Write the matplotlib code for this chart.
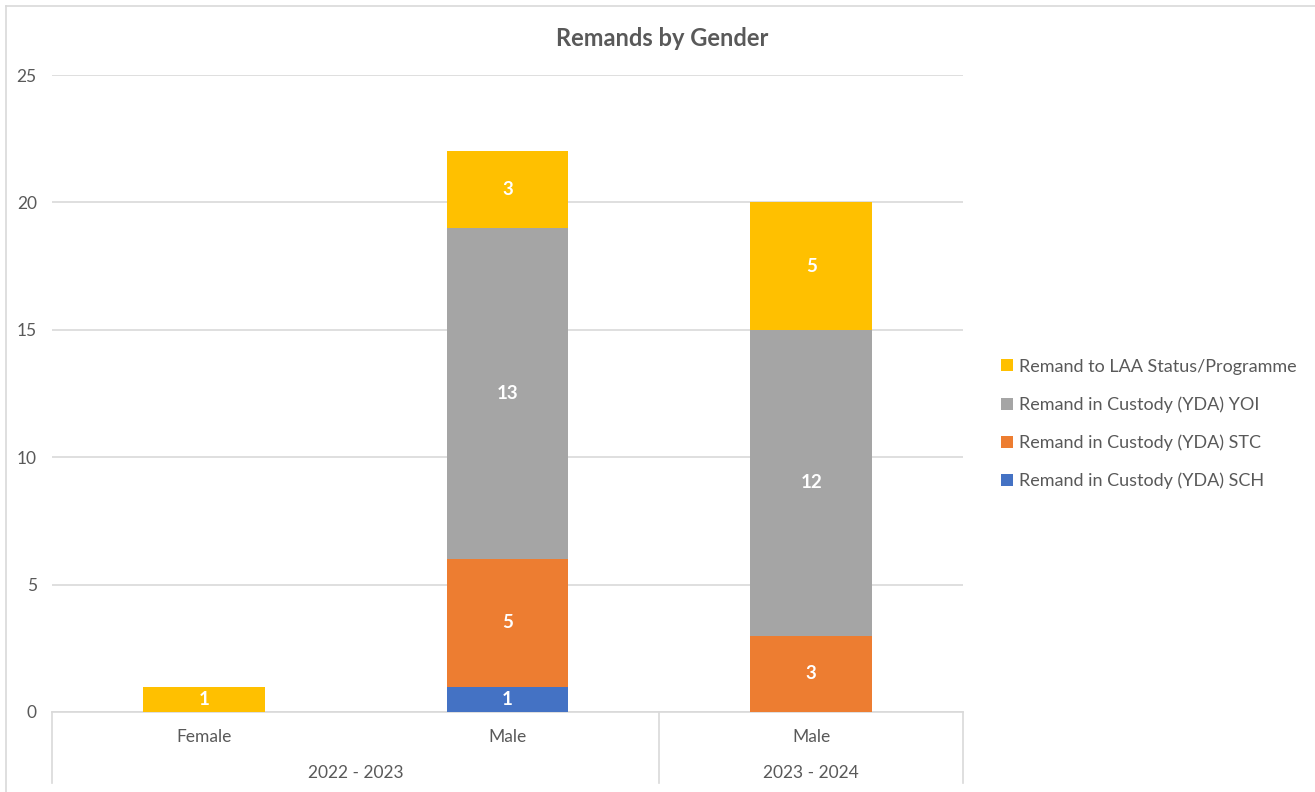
import matplotlib.pyplot as plt
from matplotlib.patches import Patch
from matplotlib.lines import Line2D
import numpy as np

plt.rcParams['font.family'] = ['Lato', 'DejaVu Sans']

# bar categories (inner level) and their period groups (outer level)
categories = ["Female", "Male", "Male"]
periods = ["2022 - 2023", "2023 - 2024"]
period_spans = [(0, 2), (2, 3)]  # category index ranges covered by each period

series_names = [
    "Remand in Custody (YDA) SCH",
    "Remand in Custody (YDA) STC",
    "Remand in Custody (YDA) YOI",
    "Remand to LAA Status/Programme",
]
sch = [0, 1, 0]
stc = [0, 5, 3]
yoi = [0, 13, 12]
laa = [1, 3, 5]
series_values = [sch, stc, yoi, laa]
series_colors = ["#4472C4", "#ED7D31", "#A5A5A5", "#FFC000"]

W, H = 1315, 792
fig = plt.figure(figsize=(W / 100, H / 100), dpi=100)
fig.patch.set_facecolor("white")

# chart frame (left and top edges)
fig.add_artist(Line2D([5.5 / W, 5.5 / W], [0, 1 - 6 / H], color="#D9D9D9", lw=1.2))
fig.add_artist(Line2D([5.5 / W, 1], [1 - 6 / H, 1 - 6 / H], color="#D9D9D9", lw=1.2))

x0, x1 = 52, 963
y0, y1 = 712, 75
ax = fig.add_axes([x0 / W, (H - y0) / H, (x1 - x0) / W, (y0 - y1) / H])

x = np.arange(len(categories))
bottom = np.zeros(len(categories))
for name, vals, col in zip(series_names, series_values, series_colors):
    vals = np.array(vals, dtype=float)
    ax.bar(x, vals, width=0.4, bottom=bottom, color=col, label=name, zorder=3)
    for xi, b, v in zip(x, bottom, vals):
        if v > 0:
            ax.text(xi, b + v / 2, f"{int(v)}", ha="center", va="center",
                    color="white", fontsize=13.5, fontweight="bold", zorder=4)
    bottom += vals

ax.set_xlim(-0.5, len(categories) - 0.5)
ax.set_ylim(0, 25)
ax.set_yticks(range(0, 26, 5))
ax.grid(axis="y", color="#D9D9D9", lw=1.2, zorder=0)
for s in ["left", "right", "top"]:
    ax.spines[s].set_visible(False)
ax.spines["bottom"].set_color("#D9D9D9")
ax.spines["bottom"].set_linewidth(1.2)
ax.tick_params(axis="y", length=0, pad=11, labelsize=12.5, labelcolor="#595959")
ax.tick_params(axis="x", length=0, pad=0)
ax.set_xticks([])

# two-level category axis below the bars
trans = ax.get_xaxis_transform()
for xi, lab in zip(x, categories):
    ax.text(xi, -25 / (y0 - y1), lab, transform=trans, ha="center", va="center",
            fontsize=12.5, color="#595959")
line_kw = dict(color="#D9D9D9", lw=1.2, transform=trans, clip_on=False)
for (a, b), lab in zip(period_spans, periods):
    ax.text((a + b - 1) / 2, -61 / (y0 - y1), lab, transform=trans, ha="center",
            va="center", fontsize=12.5, color="#595959")
for edge in [-0.5, 1.5, 2.5]:
    ax.add_line(Line2D([edge, edge], [0, -71 / (y0 - y1)], **line_kw))

fig.text(662 / W, 1 - 38 / H, "Remands by Gender", ha="center", va="center",
         fontsize=17, fontweight="bold", color="#595959")

handles = [Patch(facecolor=c, label=n) for n, c in zip(series_names, series_colors)][::-1]
fig.legend(handles=handles, loc="center left", bbox_to_anchor=(985 / W, 1 - 424 / H),
           frameon=False, fontsize=13, labelcolor="#595959", handlelength=0.65,
           handleheight=0.65, handletextpad=0.35, labelspacing=1.2)

fig.savefig("out.png", dpi=100, facecolor="white")
